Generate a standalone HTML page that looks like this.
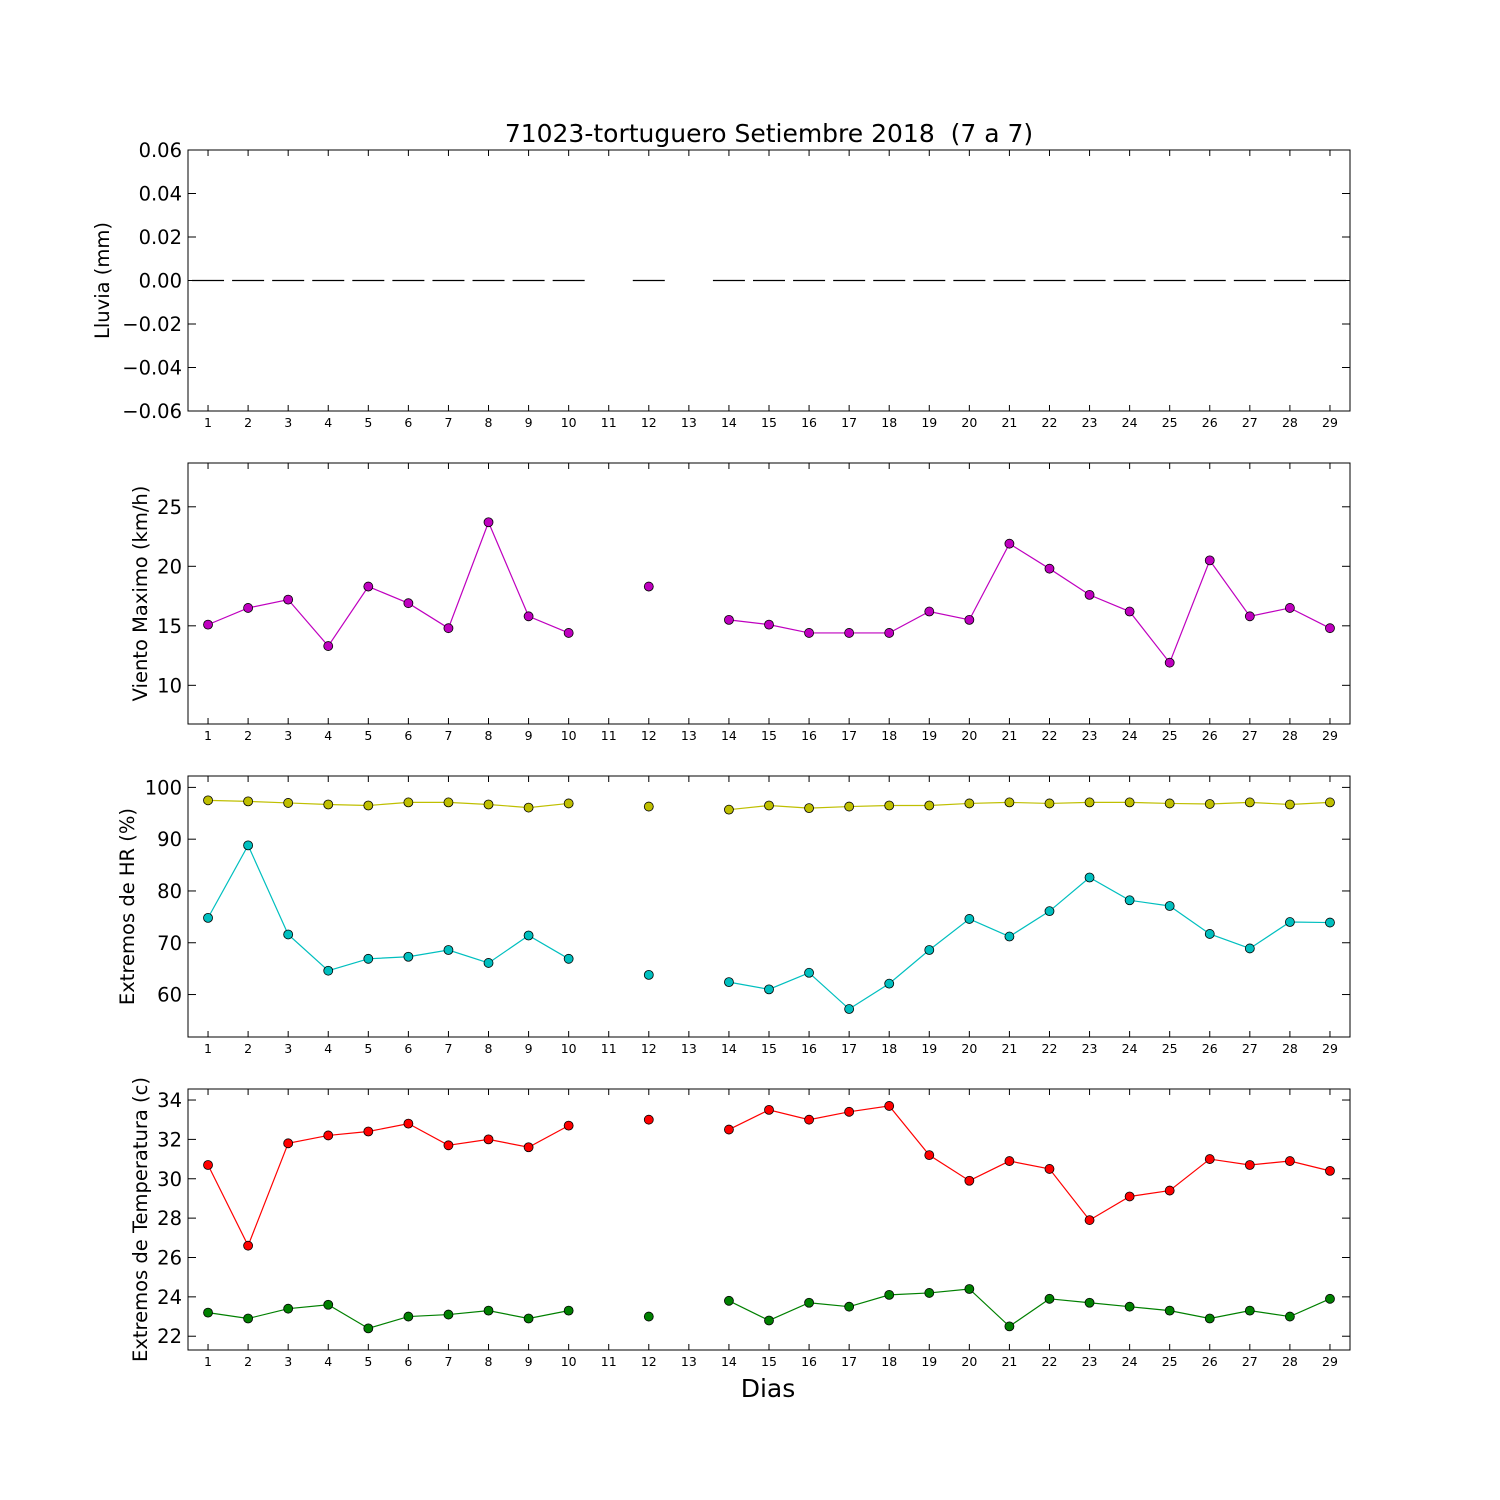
<!DOCTYPE html>
<html><head><meta charset="utf-8">
<style>
html,body{margin:0;padding:0;background:#fff;}
svg{display:block;font-family:"DejaVu Sans","Liberation Sans",sans-serif;}
</style></head>
<body>
<svg id="chart" width="1500" height="1500" viewBox="0 0 1500 1500" xmlns="http://www.w3.org/2000/svg">
<rect width="1500" height="1500" fill="#fff"/>
<text x="769" y="142" font-size="25" text-anchor="middle" style="white-space:pre">71023-tortuguero Setiembre 2018  (7 a 7)</text>
<text x="768" y="1397" font-size="25" text-anchor="middle">Dias</text>
</svg>
<script>
const days = [1,2,3,4,5,6,7,8,9,10,11,12,13,14,15,16,17,18,19,20,21,22,23,24,25,26,27,28,29];
const rain = [0,0,0,0,0,0,0,0,0,0,null,0,null,0,0,0,0,0,0,0,0,0,0,0,0,0,0,0,0];
const wind = [15.1,16.5,17.2,13.3,18.3,16.9,14.8,23.7,15.8,14.4,null,18.3,null,15.5,15.1,14.4,14.4,14.4,16.2,15.5,21.9,19.8,17.6,16.2,11.9,20.5,15.8,16.5,14.8];
const hrMax = [97.5,97.3,97,96.7,96.5,97.1,97.1,96.7,96.1,96.9,null,96.3,null,95.7,96.5,96,96.3,96.5,96.5,96.9,97.1,96.9,97.1,97.1,96.9,96.8,97.1,96.7,97.1];
const hrMin = [74.8,88.8,71.6,64.6,66.9,67.3,68.6,66.1,71.4,66.9,null,63.8,null,62.4,61,64.2,57.2,62.1,68.6,74.6,71.2,76.1,82.6,78.2,77.1,71.7,68.9,74,73.9];
const tMax = [30.7,26.6,31.8,32.2,32.4,32.8,31.7,32,31.6,32.7,null,33,null,32.5,33.5,33,33.4,33.7,31.2,29.9,30.9,30.5,27.9,29.1,29.4,31,30.7,30.9,30.4];
const tMin = [23.2,22.9,23.4,23.6,22.4,23,23.1,23.3,22.9,23.3,null,23,null,23.8,22.8,23.7,23.5,24.1,24.2,24.4,22.5,23.9,23.7,23.5,23.3,22.9,23.3,23,23.9];
const rainTicks = [0.06,0.04,0.02,0,-0.02,-0.04,-0.06];
const windTicks = [10,15,20,25];
const hrTicks = [60,70,80,90,100];
const tTicks = [22,24,26,28,30,32,34];

const svg = document.getElementById('chart');
const NS = 'http://www.w3.org/2000/svg';
const L = 188, R = 1350;
function xs(d){ return L + (d - 0.5) / 29 * (R - L); }
function mk(tag, attrs){ const e = document.createElementNS(NS, tag); for (const k in attrs) e.setAttribute(k, attrs[k]); svg.appendChild(e); return e; }

function panel(name, top, bottom, ymin, ymax, ticks, fmt, label, labelX){
  const ys = v => bottom - (v - ymin) / (ymax - ymin) * (bottom - top);
  const frame = mk('rect', {x:L, y:top, width:R-L, height:bottom-top, fill:'none', stroke:'#000', 'stroke-width':1});
  
  
  days.forEach(d => {
    const x = xs(d);
    const t1 = mk('line', {x1:x, x2:x, y1:bottom, y2:bottom-6, stroke:'#000'});
    
    
    const t2 = mk('line', {x1:x, x2:x, y1:top, y2:top+6, stroke:'#000'});
    
    
    const tl = mk('text', {x:x, y:bottom+16, 'font-size':12.5, 'text-anchor':'middle'});
    tl.textContent = d;
    
    
  });
  ticks.forEach(v => {
    const y = ys(v);
    const a = mk('line', {x1:L, x2:L+8, y1:y, y2:y, stroke:'#000'});
    
    
    const b = mk('line', {x1:R, x2:R-8, y1:y, y2:y, stroke:'#000'});
    
    
    const t = mk('text', {x:L-6, y:y+7, 'font-size':19.5, 'text-anchor':'end'});
    t.textContent = fmt(v);
    
    
  });
  const yl = mk('text', {x:labelX, y:(top+bottom)/2, 'font-size':19.5, 'text-anchor':'middle', transform:'rotate(-90 '+labelX+' '+(top+bottom)/2+')'});
  yl.textContent = label;
  
  
  return ys;
}

function series(name, vals, ys, color){
  let segs = [], cur = [];
  vals.forEach((v,i) => {
    if (v === null) { if (cur.length) segs.push(cur); cur = []; }
    else cur.push([xs(days[i]), ys(v)]);
  });
  if (cur.length) segs.push(cur);
  segs.forEach(s => {
    if (s.length > 1) {
      const p = mk('polyline', {points:s.map(q=>q.join(',')).join(' '), fill:'none', stroke:color, 'stroke-width':1.2});
      
      
    }
  });
  vals.forEach((v,i) => {
    if (v === null) return;
    const c = mk('circle', {cx:xs(days[i]), cy:ys(v), r:4.5, fill:color, stroke:'#000', 'stroke-width':0.8});
    
    
  });
}

const ys1 = panel('rain', 150, 411, -0.06, 0.06, rainTicks, v => (v<0?'\u2212':'') + Math.abs(v).toFixed(2), 'Lluvia (mm)', 109);
rain.forEach((v,i) => {
  if (v === null) return;
  const x = xs(days[i]);
  const m = mk('line', {x1:x-16, x2:x+16, y1:ys1(v), y2:ys1(v), stroke:'#000', 'stroke-width':1.2});
  
  
});

const ys2 = panel('wind', 463, 724, 6.75, 28.68, windTicks, v => String(v), 'Viento Maximo (km/h)', 147);
series('wind', wind, ys2, '#bf00bf');

const ys3 = panel('hr', 776, 1037, 51.8, 102.2, hrTicks, v => String(v), 'Extremos de HR (%)', 134);
series('hr-max', hrMax, ys3, '#bfbf00');
series('hr-min', hrMin, ys3, '#00bfbf');

const ys4 = panel('temp', 1089, 1350, 21.3, 34.56, tTicks, v => String(v), 'Extremos de Temperatura (c)', 147);
series('temp-max', tMax, ys4, '#ff0000');
series('temp-min', tMin, ys4, '#008000');
</script>
</body></html>
